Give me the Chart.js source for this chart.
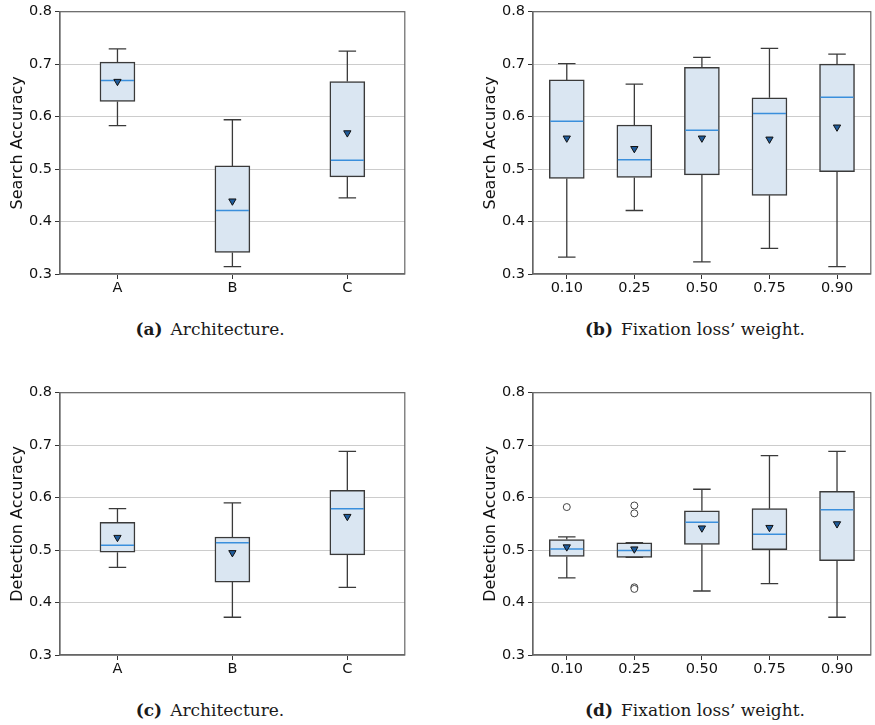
<!DOCTYPE html>
<html>
<head>
<meta charset="utf-8">
<script src="https://cdn.jsdelivr.net/npm/chart.js@4.4.1/dist/chart.umd.min.js"></script>
<style>
  html, body { margin:0; padding:0; background:#fff; width:875px; height:725px; overflow:hidden; }
  .panel { position:absolute; }
  .cap { position:absolute; transform:translate(-50%,-50%); white-space:nowrap;
         font-family:"DejaVu Serif", serif; font-size:17px; color:#1a1a1a; }
  .cap b { margin-right:8px; }
</style>
</head>
<body>
<div class="panel" style="left:0px;top:0px;width:410px;height:300px;"><canvas id="cA"></canvas></div>
<div class="panel" style="left:473px;top:0px;width:403px;height:300px;"><canvas id="cB"></canvas></div>
<div class="panel" style="left:0px;top:381px;width:410px;height:300px;"><canvas id="cC"></canvas></div>
<div class="panel" style="left:473px;top:381px;width:403px;height:300px;"><canvas id="cD"></canvas></div>
<div class="cap" style="left:210px;top:329px;"><b>(a)</b>Architecture.</div>
<div class="cap" style="left:695px;top:329px;"><b>(b)</b>Fixation loss’ weight.</div>
<div class="cap" style="left:210px;top:710px;"><b>(c)</b>Architecture.</div>
<div class="cap" style="left:695px;top:710px;"><b>(d)</b>Fixation loss’ weight.</div>
<script>
// ---- categories ----
const archLabels = ['A', 'B', 'C'];
const weightLabels = ['0.10', '0.25', '0.50', '0.75', '0.90'];
const yTickValues = [0.3, 0.4, 0.5, 0.6, 0.7, 0.8];

// ---- (a) Search accuracy by architecture ----
const searchArchMin  = [0.583, 0.314, 0.445];
const searchArchQ1   = [0.629, 0.341, 0.485];
const searchArchMed  = [0.669, 0.421, 0.517];
const searchArchQ3   = [0.704, 0.506, 0.667];
const searchArchMax  = [0.729, 0.594, 0.725];
const searchArchMean = [0.667, 0.439, 0.569];
const searchArchOutliers = [];

// ---- (b) Search accuracy by fixation loss weight ----
const searchWeightMin  = [0.332, 0.421, 0.323, 0.349, 0.314];
const searchWeightQ1   = [0.482, 0.484, 0.489, 0.450, 0.495];
const searchWeightMed  = [0.591, 0.518, 0.574, 0.606, 0.637];
const searchWeightQ3   = [0.670, 0.584, 0.694, 0.636, 0.700];
const searchWeightMax  = [0.701, 0.662, 0.713, 0.730, 0.719];
const searchWeightMean = [0.559, 0.539, 0.559, 0.557, 0.580];
const searchWeightOutliers = [];

// ---- (c) Detection accuracy by architecture ----
const detArchMin  = [0.467, 0.372, 0.429];
const detArchQ1   = [0.496, 0.439, 0.491];
const detArchMed  = [0.509, 0.514, 0.579];
const detArchQ3   = [0.553, 0.525, 0.614];
const detArchMax  = [0.579, 0.590, 0.688];
const detArchMean = [0.524, 0.495, 0.564];
const detArchOutliers = [];

// ---- (d) Detection accuracy by fixation loss weight ----
const detWeightMin  = [0.447, 0.486, 0.422, 0.436, 0.372];
const detWeightQ1   = [0.488, 0.486, 0.511, 0.501, 0.480];
const detWeightMed  = [0.502, 0.499, 0.553, 0.530, 0.577];
const detWeightQ3   = [0.520, 0.514, 0.575, 0.579, 0.612];
const detWeightMax  = [0.525, 0.514, 0.616, 0.680, 0.688];
const detWeightMean = [0.506, 0.502, 0.542, 0.543, 0.550];
const detWeightOutlierCats = ['0.10', '0.25', '0.25', '0.25', '0.25'];
const detWeightOutlierVals = [0.582, 0.585, 0.570, 0.429, 0.426];

const EDGE = '#3a3a3a';
const FILL = '#dae6f2';
const MEDIAN = '#3a8fdc';
const FRAME = '#666666';

const boxExtras = {
  id: 'boxExtras',
  afterDatasetDraw(chart, args) {
    const ds = chart.data.datasets[args.index];
    if (!ds.stats) return;
    const {ctx} = chart;
    const x = chart.scales.x, y = chart.scales.y;
    const s = ds.stats;
    ctx.save();
    args.meta.data.forEach((bar, i) => {
      const cx = x.getPixelForValue(i);
      const half = bar.width / 2;
      const capHalf = half / 2;
      const pMin = y.getPixelForValue(s.min[i]);
      const pQ1 = y.getPixelForValue(s.q1[i]);
      const pQ3 = y.getPixelForValue(s.q3[i]);
      const pMax = y.getPixelForValue(s.max[i]);
      const pMed = y.getPixelForValue(s.med[i]);
      ctx.strokeStyle = EDGE;
      ctx.lineWidth = 1.3;
      ctx.beginPath();
      ctx.moveTo(cx, pQ3); ctx.lineTo(cx, pMax);
      ctx.moveTo(cx - capHalf, pMax); ctx.lineTo(cx + capHalf, pMax);
      ctx.moveTo(cx, pQ1); ctx.lineTo(cx, pMin);
      ctx.moveTo(cx - capHalf, pMin); ctx.lineTo(cx + capHalf, pMin);
      ctx.stroke();
      ctx.strokeStyle = MEDIAN;
      ctx.lineWidth = 1.5;
      ctx.beginPath();
      ctx.moveTo(cx - half + 1, pMed); ctx.lineTo(cx + half - 1, pMed);
      ctx.stroke();
    });
    ctx.restore();
  },
  afterDraw(chart) {
    const {ctx, chartArea:a} = chart;
    ctx.save();
    ctx.strokeStyle = FRAME;
    ctx.lineWidth = 1.2;
    ctx.strokeRect(a.left, a.top, a.right - a.left, a.bottom - a.top);
    ctx.restore();
  }
};

function makeChart(id, labels, stats, mean, outliers, yTitle) {
  const boxData = labels.map((_, i) => [stats.q1[i], stats.q3[i]]);
  new Chart(document.getElementById(id), {
    type: 'bar',
    data: {
      labels: labels,
      datasets: [
        {
          type: 'line', data: mean, showLine: false,
          pointStyle: 'triangle', rotation: 180, pointRadius: 4.2, pointHoverRadius: 4.2,
          pointBackgroundColor: '#1f5c9c', pointBorderColor: '#111', pointBorderWidth: 1
        },
        {
          type: 'line', data: outliers, showLine: false,
          pointStyle: 'circle', pointRadius: 3.5, pointHoverRadius: 3.5,
          pointBackgroundColor: '#fff', pointBorderColor: '#444', pointBorderWidth: 1
        },
        {
          type: 'bar', data: boxData, stats: stats,
          backgroundColor: FILL, borderColor: EDGE, borderWidth: 1.5, borderSkipped: false,
          barThickness: 35, grouped: false
        }
      ]
    },
    options: {
      responsive: false, animation: false, devicePixelRatio: 1,
      layout: { padding: { top: 8, right: 2, left: 0, bottom: 0 } },
      plugins: { legend: { display: false }, tooltip: { enabled: false } },
      scales: {
        x: {
          type: 'category', offset: true,
          grid: { display: true, offset: false, drawOnChartArea: false, drawTicks: true, tickLength: 5, tickColor: '#333', tickWidth: 1 },
          border: { display: true, color: FRAME, width: 1.2 },
          ticks: { font: { family: 'DejaVu Sans', size: 14.5 }, color: '#111', padding: 1, maxRotation: 0 },
          afterFit: (sc) => { sc.height = 26; }
        },
        y: {
          min: 0.3, max: 0.8,
          afterBuildTicks: (sc) => { sc.ticks = yTickValues.map(v => ({ value: v })); },
          grid: { color: '#cccccc', lineWidth: 1, drawTicks: true, tickLength: 5, tickColor: '#333', tickWidth: 1 },
          border: { display: true, color: FRAME, width: 1.2 },
          ticks: { font: { family: 'DejaVu Sans', size: 14.5 }, color: '#111', padding: 3,
                   callback: (v) => Number(v).toFixed(1) },
          title: { display: true, text: yTitle, font: { family: 'DejaVu Sans', size: 16 }, color: '#111',
                   padding: { top: 8, bottom: 0 } },
          afterFit: (sc) => { sc.width = 60; }
        }
      }
    },
    plugins: [boxExtras]
  });
}

function sizeCanvas(id, w, h) {
  const c = document.getElementById(id);
  c.width = w; c.height = h; c.style.width = w + 'px'; c.style.height = h + 'px';
}
sizeCanvas('cA', 410, 300); sizeCanvas('cB', 403, 300);
sizeCanvas('cC', 410, 300); sizeCanvas('cD', 403, 300);

makeChart('cA', archLabels,
  { min: searchArchMin, q1: searchArchQ1, med: searchArchMed, q3: searchArchQ3, max: searchArchMax },
  searchArchMean, searchArchOutliers, 'Search Accuracy');
makeChart('cB', weightLabels,
  { min: searchWeightMin, q1: searchWeightQ1, med: searchWeightMed, q3: searchWeightQ3, max: searchWeightMax },
  searchWeightMean, searchWeightOutliers, 'Search Accuracy');
makeChart('cC', archLabels,
  { min: detArchMin, q1: detArchQ1, med: detArchMed, q3: detArchQ3, max: detArchMax },
  detArchMean, detArchOutliers, 'Detection Accuracy');
makeChart('cD', weightLabels,
  { min: detWeightMin, q1: detWeightQ1, med: detWeightMed, q3: detWeightQ3, max: detWeightMax },
  detWeightMean,
  detWeightOutlierCats.map((c, i) => ({ x: c, y: detWeightOutlierVals[i] })),
  'Detection Accuracy');
</script>
</body>
</html>
